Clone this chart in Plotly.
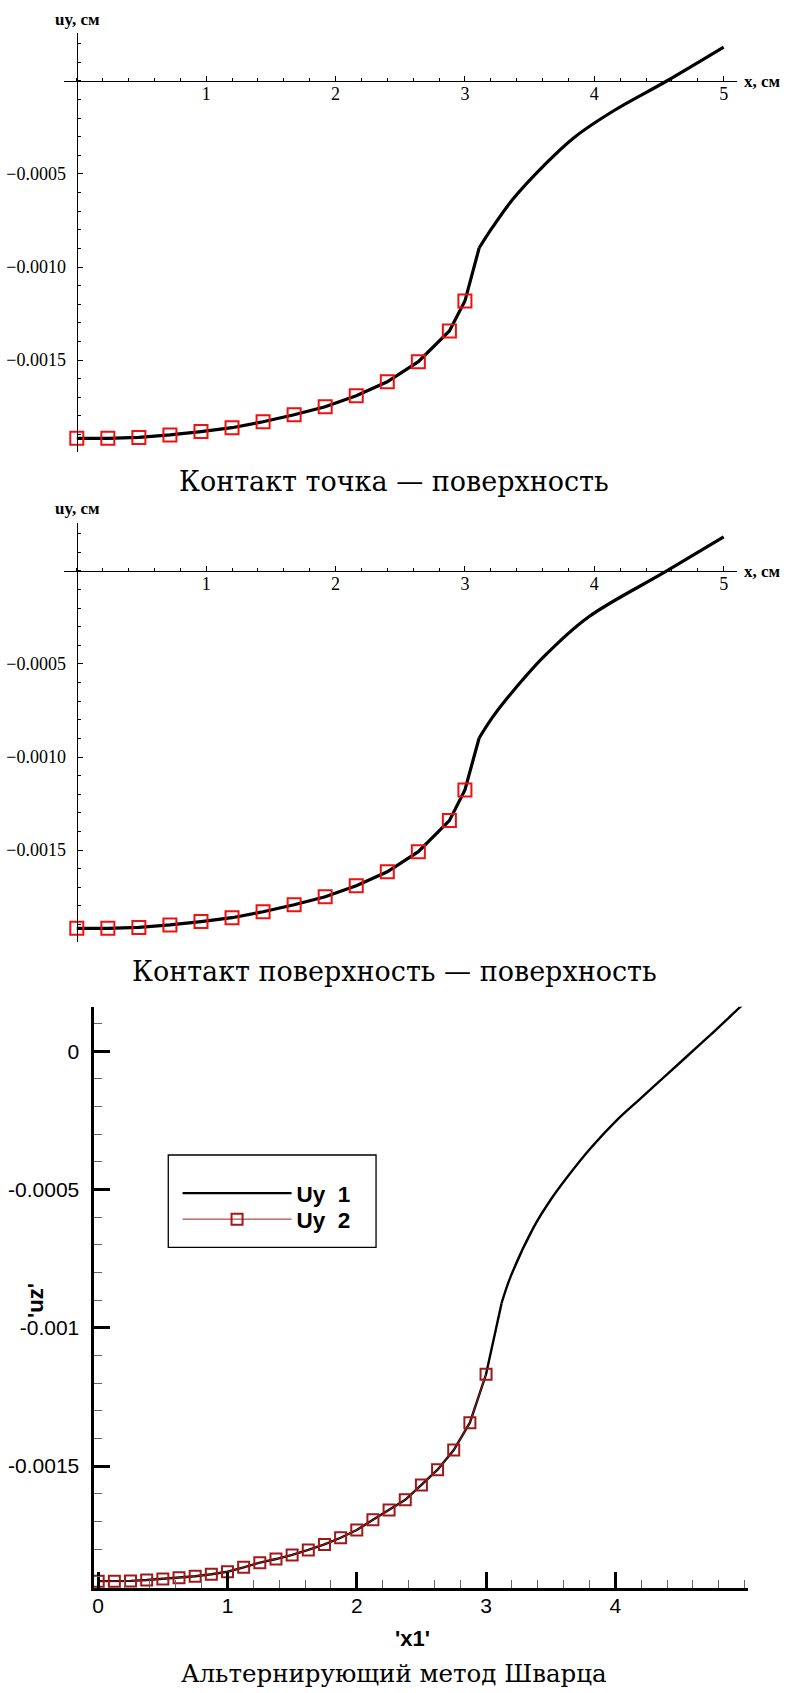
import plotly.graph_objects as go

W, H = 787, 1693

# ---------------- data ----------------
# Panel 1: contact "point - surface"
x_nodes_1 = [0, 0.24, 0.48, 0.72, 0.96, 1.2, 1.44, 1.68, 1.92, 2.16, 2.4, 2.64, 2.88, 3.0]
uy_nodes_1 = [-0.001921, -0.001921, -0.001916, -0.001903, -0.001885, -0.001864, -0.001832,
              -0.001794, -0.001751, -0.001692, -0.001617, -0.001509, -0.001344, -0.001183]
x_tail_1 = [3.11, 3.21, 3.37, 3.61, 3.84, 4.15, 4.56, 5.0]
uy_tail_1 = [-0.000898, -0.00079, -0.000636, -0.000455, -0.000306, -0.000160, 0.0, 0.000182]

# Panel 2: contact "surface - surface"
x_nodes_2 = [0, 0.24, 0.48, 0.72, 0.96, 1.2, 1.44, 1.68, 1.92, 2.16, 2.4, 2.64, 2.88, 3.0]
uy_nodes_2 = [-0.001921, -0.001921, -0.001916, -0.001903, -0.001885, -0.001864, -0.001832,
              -0.001794, -0.001751, -0.001692, -0.001617, -0.001509, -0.001342, -0.001177]
x_tail_2 = [3.11, 3.21, 3.32, 3.61, 3.95, 4.56, 5.0]
uy_tail_2 = [-0.000898, -0.00079, -0.00069, -0.000461, -0.000250, 0.0, 0.000184]

# Panel 3: alternating Schwarz method
x_uy2 = [0, 0.125, 0.25, 0.375, 0.5, 0.625, 0.75, 0.875, 1.0, 1.125, 1.25, 1.375, 1.5,
         1.625, 1.75, 1.875, 2.0, 2.125, 2.25, 2.375, 2.5, 2.625, 2.75, 2.875, 3.0]
uy2 = [-0.001916, -0.001916, -0.001915, -0.001912, -0.001908, -0.001904, -0.001898,
       -0.001891, -0.001882, -0.001866, -0.001849, -0.001836, -0.001821, -0.001803,
       -0.001783, -0.001759, -0.001731, -0.001694, -0.001659, -0.001622, -0.001568,
       -0.001513, -0.001442, -0.001343, -0.001168]
x_uy1_tail = [3.12, 3.19, 3.37, 3.5, 3.63, 3.81, 4.01, 4.19, 4.4, 4.55, 4.71, 4.86, 4.95, 5.0]
uy1_tail = [-0.000911, -0.000815, -0.000635, -0.000537, -0.000454, -0.000350, -0.000250,
            -0.000173, -0.000084, -0.000020, 0.000048, 0.000113, 0.000153, 0.000174]

captions = ["Контакт точка — поверхность",
            "Контакт поверхность — поверхность",
            "Альтернирующий метод Шварца"]
caption_sizes = [27, 27, 24.5]

# ---------------- helpers ----------------
def fx(p):
    return p / W


def fy(p):
    return 1 - p / H


SERIF = "Liberation Serif"
CAPTION = "DejaVu Serif"
SANS = "Liberation Sans"

fig = go.Figure()
annotations = []
layout = dict(
    width=W, height=H, margin=dict(l=0, r=0, t=0, b=0),
    paper_bgcolor="white", plot_bgcolor="white",
)


def math_panel(idx, top_px, x_nodes, uy_nodes, x_tail, uy_tail, caption, cap_size):
    xr = [-0.1, 5.104]
    yr = [-0.0019946, 0.000258]
    xdom = [fx(62), fx(737)]
    ydom = [fy(top_px + 419), fy(top_px)]
    xa = "xaxis" if idx == 1 else f"xaxis{idx}"
    ya = "yaxis" if idx == 1 else f"yaxis{idx}"
    xref = "x" if idx == 1 else f"x{idx}"
    yref = "y" if idx == 1 else f"y{idx}"
    # axes cross at the origin
    xpos = ydom[0] + (0 - yr[0]) / (yr[1] - yr[0]) * (ydom[1] - ydom[0])
    ypos = xdom[0] + (0 - xr[0]) / (xr[1] - xr[0]) * (xdom[1] - xdom[0])
    layout[xa] = dict(
        domain=xdom, range=xr, anchor="free", position=xpos, side="bottom",
        showgrid=False, zeroline=False, showline=True, linecolor="black", linewidth=1.3,
        tickmode="array", tickvals=[1, 2, 3, 4, 5], ticktext=["1", "2", "3", "4", "5"],
        ticks="inside", ticklen=5, tickwidth=1.2, tickcolor="black",
        minor=dict(dtick=0.2, tick0=0, ticks="inside", ticklen=3, tickwidth=1, tickcolor="black"),
        tickfont=dict(family=SERIF, size=18, color="black"), ticklabelstandoff=-4,
    )
    layout[ya] = dict(
        domain=ydom, range=yr, anchor="free", position=ypos, side="left",
        showgrid=False, zeroline=False, showline=True, linecolor="black", linewidth=1.3,
        tickmode="array", tickvals=[-0.0015, -0.001, -0.0005],
        ticktext=["\u22120.0015", "\u22120.0010", "\u22120.0005"],
        ticks="inside", ticklen=5, tickwidth=1.2, tickcolor="black",
        minor=dict(dtick=0.0001, tick0=0, ticks="inside", ticklen=3, tickwidth=1, tickcolor="black"),
        tickfont=dict(family=SERIF, size=18, color="black"), ticklabelstandoff=7,
    )
    curve = dict(color="black", width=3.2)
    fig.add_trace(go.Scatter(
        x=x_nodes + x_tail[:1], y=uy_nodes + uy_tail[:1], mode="lines",
        line=curve, xaxis=xref, yaxis=yref, showlegend=False,
    ))
    fig.add_trace(go.Scatter(
        x=x_tail, y=uy_tail, mode="lines",
        line=dict(curve, shape="spline", smoothing=1.0), xaxis=xref, yaxis=yref, showlegend=False,
    ))
    fig.add_trace(go.Scatter(
        x=x_nodes, y=uy_nodes, mode="markers",
        marker=dict(symbol="square-open", size=13, color="#ee1111", line=dict(width=2, color="#ee1111")),
        xaxis=xref, yaxis=yref, showlegend=False, cliponaxis=False,
    ))
    annotations.append(dict(
        x=fx(75.5), y=fy(top_px - 14), xref="paper", yref="paper", text="uy, см",
        showarrow=False, xanchor="center", yanchor="middle",
        font=dict(family=SERIF, size=17, color="black", weight="bold"),
    ))
    annotations.append(dict(
        x=fx(742), y=fy(top_px + 48), xref="paper", yref="paper", text="x, см",
        showarrow=False, xanchor="left", yanchor="middle",
        font=dict(family=SERIF, size=17, color="black", weight="bold"),
    ))
    annotations.append(dict(
        x=fx(393), y=fy(top_px + 448.5), xref="paper", yref="paper", text=caption,
        showarrow=False, xanchor="center", yanchor="middle",
        font=dict(family=CAPTION, size=cap_size, color="black"),
    ))


math_panel(1, 33, x_nodes_1, uy_nodes_1, x_tail_1, uy_tail_1, captions[0], caption_sizes[0])
math_panel(2, 523, x_nodes_2, uy_nodes_2, x_tail_2, uy_tail_2, captions[1], caption_sizes[1])

# ---------------- panel 3 ----------------
layout["xaxis3"] = dict(
    domain=[fx(92.7), fx(748.4)], range=[-0.029, 5.03], anchor="y3",
    showgrid=False, zeroline=False, showline=True, linecolor="black", linewidth=3,
    tickmode="array", tickvals=[0, 1, 2, 3, 4], ticktext=["0", "1", "2", "3", "4"],
    ticks="inside", ticklen=16, tickwidth=2.5, tickcolor="black",
    minor=dict(dtick=0.2, tick0=0, ticks="inside", ticklen=8, tickwidth=1, tickcolor="#666"),
    tickfont=dict(family=SANS, size=21, color="black"), ticklabelstandoff=-3,
)
layout["yaxis3"] = dict(
    domain=[fy(1588), fy(1006.7)], range=[-0.0019407, 0.0001609], anchor="x3",
    showgrid=False, zeroline=False, showline=True, linecolor="black", linewidth=3,
    tickmode="array", tickvals=[-0.0015, -0.001, -0.0005, 0],
    ticktext=["-0.0015", "-0.001", "-0.0005", "0"],
    ticks="inside", ticklen=16, tickwidth=2.5, tickcolor="black",
    minor=dict(dtick=0.0001, tick0=0, ticks="inside", ticklen=8, tickwidth=1, tickcolor="#666"),
    tickfont=dict(family=SANS, size=21, color="black"), ticklabelstandoff=8,
)

uy1_line = dict(color="black", width=2.4)
fig.add_trace(go.Scatter(
    x=x_uy2 + x_uy1_tail[:1], y=uy2 + uy1_tail[:1], mode="lines", name="Uy\u00a0\u00a01",
    line=uy1_line, xaxis="x3", yaxis="y3", legend="legend", legendgroup="uy1",
))
fig.add_trace(go.Scatter(
    x=x_uy1_tail, y=uy1_tail, mode="lines", name="Uy\u00a0\u00a01",
    line=dict(uy1_line, shape="spline", smoothing=1.0), xaxis="x3", yaxis="y3",
    legendgroup="uy1", showlegend=False,
))
fig.add_trace(go.Scatter(
    x=x_uy2, y=uy2, mode="lines+markers", name="Uy\u00a0\u00a02",
    line=dict(color="#a61c1c", width=1),
    marker=dict(symbol="square-open", size=11, color="#a01818", line=dict(width=2, color="#a01818")),
    xaxis="x3", yaxis="y3", cliponaxis=False, legend="legend2",
))

annotations += [
    dict(x=fx(412), y=fy(1638), xref="paper", yref="paper", text="'x1'", showarrow=False,
         xanchor="center", yanchor="middle",
         font=dict(family=SANS, size=22, color="black", weight="bold")),
    dict(x=fx(33), y=fy(1300), xref="paper", yref="paper", text="'uz'", showarrow=False,
         textangle=-90, xanchor="center", yanchor="middle",
         font=dict(family=SANS, size=22, color="black", weight="bold")),
    dict(x=fx(393), y=fy(1673), xref="paper", yref="paper", text=captions[2], showarrow=False,
         xanchor="center", yanchor="middle",
         font=dict(family=CAPTION, size=caption_sizes[2], color="black")),
]

layout["annotations"] = annotations
layout["shapes"] = [dict(
    type="rect", xref="paper", yref="paper",
    x0=fx(166.7), x1=fx(375), y0=fy(1247.3), y1=fy(1155),
    line=dict(color="black", width=1.3), fillcolor="rgba(0,0,0,0)",
)]
legend_style = dict(
    xanchor="left", yanchor="top", bgcolor="rgba(0,0,0,0)", borderwidth=0, itemwidth=109,
    font=dict(family=SANS, size=22.5, color="black", weight="bold"),
)
layout["legend"] = dict(legend_style, x=fx(176), y=fy(1172))
layout["legend2"] = dict(legend_style, x=fx(176), y=fy(1198))
layout["showlegend"] = True

fig.update_layout(**layout)
fig.write_html("out.html")
